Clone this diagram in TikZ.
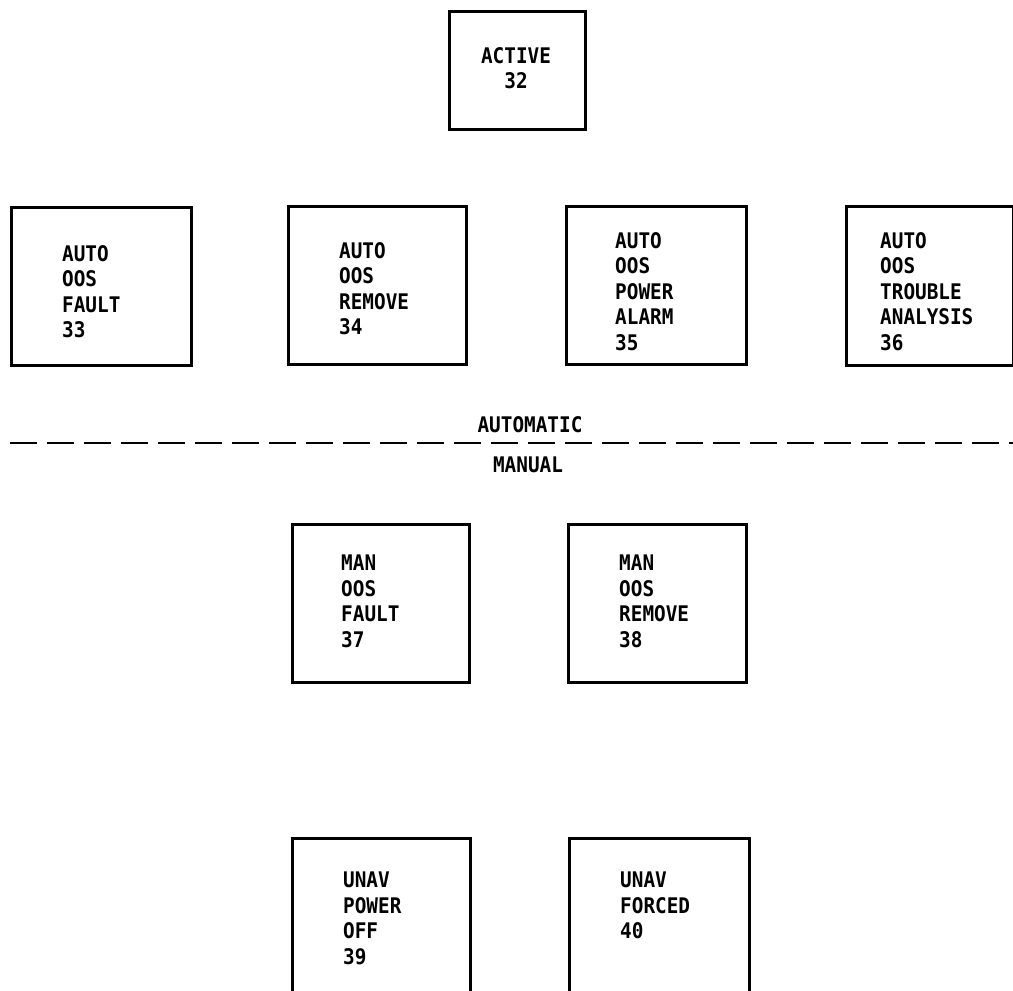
\documentclass[tikz,border=0pt]{standalone}
\usepackage{fontspec}
\newfontfamily\plotfont[FakeStretch=0.9]{DejaVu Sans Mono Bold}
\begin{document}
\begin{tikzpicture}[x=1pt,y=-1pt,
  box/.style={draw, line width=2.6pt, rectangle, inner sep=0pt, anchor=north west},
  lbl/.style={font=\plotfont\fontsize{21.5}{25.5}\selectfont, inner sep=0pt, anchor=north west, align=left},
  clbl/.style={font=\plotfont\fontsize{21.5}{25.5}\selectfont, inner sep=0pt, anchor=north, align=center},
  sepline/.style={line width=2.6pt, dash pattern=on 27pt off 10pt}]
\useasboundingbox (0,0) rectangle (1013,991);
\clip (0,0) rectangle (1013,991);

% boxes
\node[box, minimum width=136pt, minimum height=118pt] (b32) at (448,10) {};
\node[box, minimum width=180pt, minimum height=158pt] (b33) at (10,206) {};
\node[box, minimum width=178pt, minimum height=158pt] (b34) at (287,205) {};
\node[box, minimum width=180pt, minimum height=158pt] (b35) at (565,205) {};
\node[box, minimum width=167pt, minimum height=159pt] (b36) at (845,205) {};
\node[box, minimum width=177pt, minimum height=158pt] (b37) at (291,523) {};
\node[box, minimum width=178pt, minimum height=158pt] (b38) at (567,523) {};
\node[box, minimum width=178pt, minimum height=180pt] (b39) at (291,837) {};
\node[box, minimum width=180pt, minimum height=180pt] (b40) at (568,837) {};

% texts
\node[clbl] (t32) at (516,47) {ACTIVE\\32};
\node[lbl] (t33) at (62,245) {AUTO\\OOS\\FAULT\\33};
\node[lbl] (t34) at (339,242) {AUTO\\OOS\\REMOVE\\34};
\node[lbl] (t35) at (615,232) {AUTO\\OOS\\POWER\\ALARM\\35};
\node[lbl] (t36) at (880,232) {AUTO\\OOS\\TROUBLE\\ANALYSIS\\36};
\node[lbl] (t37) at (341,555) {MAN\\OOS\\FAULT\\37};
\node[lbl] (t38) at (619,555) {MAN\\OOS\\REMOVE\\38};
\node[lbl] (t39) at (343,872) {UNAV\\POWER\\OFF\\39};
\node[lbl] (t40) at (620,872) {UNAV\\FORCED\\40};

% separator
\coordinate (sepL) at (10,443);
\coordinate (sepR) at (1013,443);
\draw[sepline] (sepL) -- (sepR);
\node[clbl] (auto) at (530,416) {AUTOMATIC};
\node[clbl] (man) at (528,457) {MANUAL};
\end{tikzpicture}
\end{document}
